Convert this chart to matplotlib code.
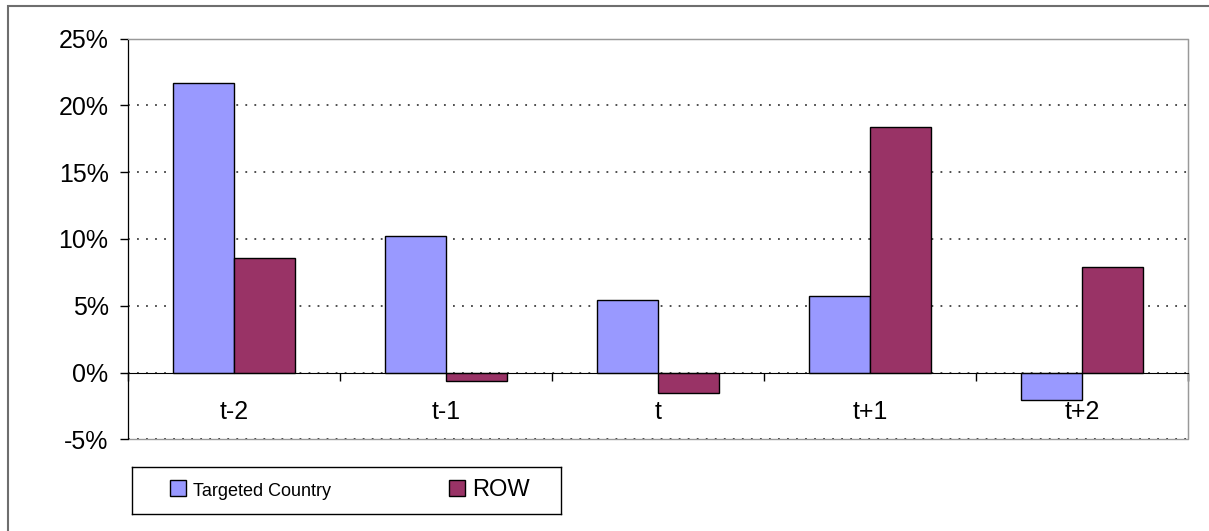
import matplotlib.pyplot as plt
import numpy as np
from matplotlib.patches import Rectangle
from matplotlib.ticker import FixedLocator, PercentFormatter

plt.rcParams["font.family"] = ["Liberation Sans", "DejaVu Sans"]
plt.rcParams["axes.unicode_minus"] = False

periods = ["t-2", "t-1", "t", "t+1", "t+2"]
targeted = [21.65, 10.25, 5.4, 5.7, -2.07]
row = [8.6, -0.6, -1.5, 18.4, 7.9]
series_labels = ["Targeted Country", "ROW"]
series_colors = ["#9999FF", "#993366"]

W, H = 1209, 531
fig = plt.figure(figsize=(W / 100, H / 100), dpi=100)

# outer chart border (only left/top fall inside the picture)
fig.patches.append(Rectangle((8 / W, -0.05), 1.2, 1 - 6 / H + 0.05, transform=fig.transFigure,
                             fill=False, edgecolor="#6e6e6e", linewidth=1.5))

ax = fig.add_axes([128 / W, 1 - 439.3 / H, (1188 - 128) / W, (439.3 - 38.7) / H])

x = np.arange(len(periods))
bw = 1 / 3.5
for vals, off, col, lab in zip([targeted, row], [-bw / 2, bw / 2], series_colors, series_labels):
    ax.bar(x + off, vals, width=bw, color=col, edgecolor="black", linewidth=1.0, label=lab, zorder=3)

ax.set_xlim(-0.5, len(periods) - 0.5)
ax.set_ylim(-5, 25)
ax.yaxis.set_major_locator(FixedLocator(np.arange(-5, 26, 5)))
ax.yaxis.set_major_formatter(PercentFormatter(decimals=0))
ax.grid(axis="y", linestyle=(0, (1, 4)), color="#404040", linewidth=1.3, zorder=0)

# frame: black y-axis, black zero line, grey plot-area border
for side in ["top", "right"]:
    ax.spines[side].set_color("#999999")
ax.spines["left"].set_color("black")
ax.spines["bottom"].set_position(("data", 0))
ax.spines["bottom"].set_color("black")
ax.spines["bottom"].set_zorder(4)
ax.add_patch(Rectangle((0, 0), 1, 1, transform=ax.transAxes, fill=False,
                       edgecolor="#999999", linewidth=1.0, zorder=1, clip_on=False))

ax.set_xticks(np.arange(-0.5, len(periods), 1.0))
ax.set_xticklabels([])
ax.set_xticks(x, minor=True)
ax.set_xticklabels(periods, minor=True)
ax.tick_params(axis="x", which="major", direction="out", length=6, width=1, color="black")
ax.tick_params(axis="x", which="minor", length=0, pad=20, labelsize=18)
ax.tick_params(axis="y", direction="out", length=6, width=1, pad=8, labelsize=18)

# legend box
lax = fig.add_axes([132 / W, 1 - 514 / H, 429 / W, 47 / H])
lax.set_xticks([])
lax.set_yticks([])
for s in lax.spines.values():
    s.set_color("black")
    s.set_linewidth(1.0)
handles, labels = ax.get_legend_handles_labels()
fs_px = 17 * 100 / 72
leg = lax.legend(handles, labels, loc="center left", bbox_to_anchor=(38 / 429, 0.5), ncol=2,
                 frameon=False, fontsize=17, borderpad=0, borderaxespad=0,
                 handlelength=16 / fs_px, handleheight=16 / fs_px, handletextpad=7 / fs_px,
                 columnspacing=118 / fs_px)
leg.get_texts()[0].set_fontsize(13)

fig.savefig("out.png", dpi=100)
